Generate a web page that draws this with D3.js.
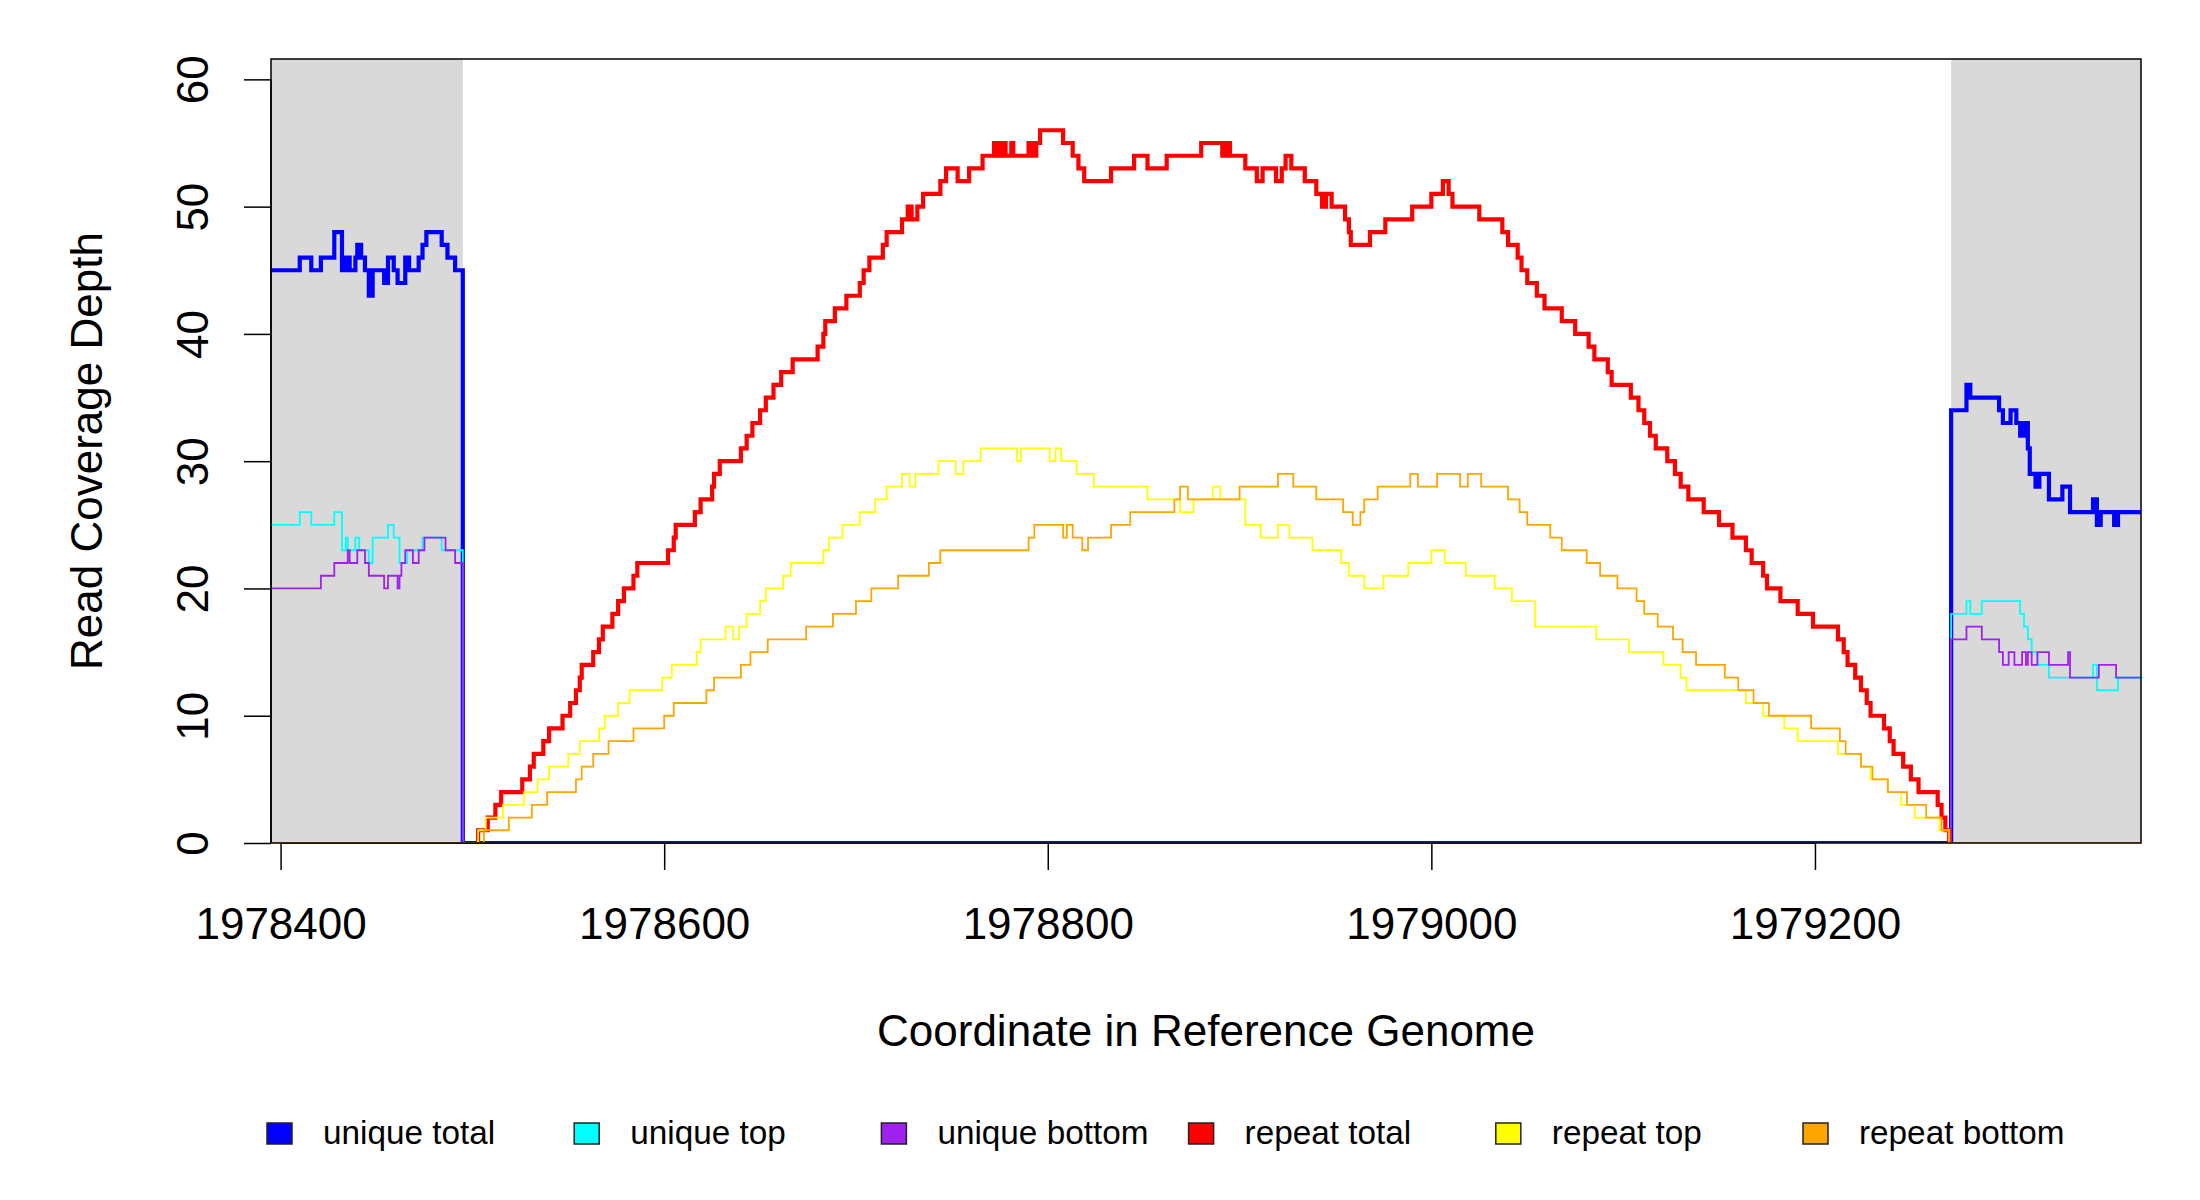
<!DOCTYPE html>
<html>
<head>
<meta charset="utf-8">
<script src="https://cdn.jsdelivr.net/npm/d3@7"></script>
<style>
  body { margin: 0; background: #ffffff; }
  #chart-area { width: 2200px; height: 1200px; }
  text { font-family: "Liberation Sans", Arial, Helvetica, sans-serif; fill: #000; }
</style>
</head>
<body>
<div id="chart-area"></div>
<script>
// Read coverage around a repeat.
// Each series is a list of [coordinate, depth] change points (drawn as steps).

const xTicks = [1978400, 1978600, 1978800, 1979000, 1979200];
const yTicks = [0, 10, 20, 30, 40, 50, 60];

// Unique flanks (shaded grey) either side of the repeat
const leftFlank = [1978395, 1978495];
const rightFlank = [1979271, 1979370];

const uniqueTotal = [
  [1978395, 45], [1978410, 46], [1978416, 45], [1978421, 46], [1978428, 48], [1978432, 45], [1978433, 46],
  [1978434, 45], [1978435, 46], [1978436, 45], [1978439, 46], [1978440, 47], [1978442, 46], [1978444, 45],
  [1978446, 43], [1978448, 45], [1978454, 44], [1978456, 46], [1978459, 45], [1978461, 44], [1978465, 46],
  [1978467, 45], [1978472, 46], [1978474, 47], [1978476, 48], [1978484, 47], [1978487, 46], [1978491, 45],
  [1978495, 0],
  [1979271, 34], [1979279, 36], [1979281, 35], [1979296, 34], [1979298, 33], [1979302, 34], [1979305, 33],
  [1979307, 32], [1979309, 33], [1979311, 31], [1979312, 29], [1979315, 28], [1979317, 29], [1979322, 27],
  [1979329, 28], [1979333, 26], [1979345, 27], [1979347, 25], [1979349, 26], [1979356, 25], [1979358, 26],
  [1979370, 26],
];

const uniqueTop = [
  [1978395, 25], [1978410, 26], [1978416, 25], [1978428, 26], [1978432, 23], [1978434, 24], [1978435, 23],
  [1978439, 24], [1978441, 23], [1978446, 22], [1978448, 24], [1978456, 25], [1978459, 24], [1978462, 22],
  [1978466, 23], [1978474, 24], [1978484, 23], [1978495, 0],
  [1979271, 18], [1979279, 19], [1979281, 18], [1979287, 19], [1979307, 18], [1979309, 17], [1979311, 16],
  [1979313, 15], [1979316, 14], [1979322, 13], [1979345, 14], [1979347, 12], [1979358, 13], [1979370, 13],
];

const uniqueBottom = [
  [1978395, 20], [1978421, 21], [1978428, 22], [1978435, 23], [1978436, 22], [1978440, 23], [1978444, 22],
  [1978446, 21], [1978454, 20], [1978456, 21], [1978461, 20], [1978462, 21], [1978463, 22], [1978465, 23],
  [1978469, 22], [1978472, 23], [1978475, 24], [1978486, 23], [1978491, 22], [1978495, 0],
  [1979271, 16], [1979279, 17], [1979287, 16], [1979296, 15], [1979298, 14], [1979301, 15], [1979304, 14],
  [1979308, 15], [1979310, 14], [1979311, 15], [1979313, 14], [1979316, 15], [1979322, 14], [1979332, 15],
  [1979333, 13], [1979348, 14], [1979357, 13], [1979370, 13],
];

// repeat total only covers the repeat itself
const repeatTotal = [
  [1978502, 0], [1978503, 1], [1978508, 2], [1978512, 3], [1978515, 4], [1978526, 5], [1978530, 6],
  [1978532, 7], [1978537, 8], [1978540, 9], [1978547, 10], [1978551, 11], [1978554, 12], [1978556, 13],
  [1978557, 14], [1978563, 15], [1978566, 16], [1978568, 17], [1978573, 18], [1978576, 19], [1978579, 20],
  [1978584, 21], [1978586, 22], [1978602, 23], [1978605, 24], [1978606, 25], [1978616, 26], [1978619, 27],
  [1978625, 28], [1978626, 29], [1978629, 30], [1978640, 31], [1978643, 32], [1978646, 33], [1978650, 34],
  [1978653, 35], [1978657, 36], [1978661, 37], [1978667, 38], [1978680, 39], [1978683, 40], [1978684, 41],
  [1978689, 42], [1978695, 43], [1978702, 44], [1978704, 45], [1978707, 46], [1978714, 47], [1978716, 48],
  [1978724, 49], [1978727, 50], [1978729, 49], [1978732, 50], [1978735, 51], [1978744, 52], [1978747, 53],
  [1978753, 52], [1978759, 53], [1978766, 54], [1978772, 55], [1978774, 54], [1978776, 55], [1978778, 54],
  [1978781, 55], [1978782, 54], [1978790, 55], [1978792, 54], [1978794, 55], [1978796, 56], [1978808, 55],
  [1978813, 54], [1978816, 53], [1978819, 52], [1978833, 53], [1978845, 54], [1978852, 53], [1978862, 54],
  [1978880, 55], [1978891, 54], [1978893, 55], [1978895, 54], [1978903, 53], [1978909, 52], [1978912, 53],
  [1978919, 52], [1978922, 53], [1978924, 54], [1978927, 53], [1978934, 52], [1978940, 51], [1978943, 50],
  [1978945, 51], [1978948, 50], [1978955, 49], [1978957, 48], [1978958, 47], [1978968, 48], [1978976, 49],
  [1978990, 50], [1979000, 51], [1979006, 52], [1979009, 51], [1979011, 50], [1979025, 49], [1979037, 48],
  [1979040, 47], [1979045, 46], [1979047, 45], [1979050, 44], [1979055, 43], [1979059, 42], [1979068, 41],
  [1979075, 40], [1979082, 39], [1979085, 38], [1979092, 37], [1979094, 36], [1979104, 35], [1979108, 34],
  [1979111, 33], [1979114, 32], [1979117, 31], [1979123, 30], [1979127, 29], [1979130, 28], [1979134, 27],
  [1979142, 26], [1979150, 25], [1979157, 24], [1979164, 23], [1979167, 22], [1979173, 21], [1979175, 20],
  [1979182, 19], [1979191, 18], [1979199, 17], [1979212, 16], [1979215, 15], [1979217, 14], [1979221, 13],
  [1979224, 12], [1979227, 11], [1979229, 10], [1979236, 9], [1979239, 8], [1979241, 7], [1979246, 6],
  [1979250, 5], [1979254, 4], [1979264, 3], [1979266, 2], [1979268, 1], [1979270, 0], [1979271, 0],
];

const repeatTop = [
  [1978395, 0], [1978503, 1], [1978507, 2], [1978516, 3], [1978527, 4], [1978534, 5], [1978540, 6],
  [1978550, 7], [1978556, 8], [1978566, 9], [1978569, 10], [1978576, 11], [1978582, 12], [1978599, 13],
  [1978604, 14], [1978617, 15], [1978619, 16], [1978632, 17], [1978636, 16], [1978639, 17], [1978643, 18],
  [1978650, 19], [1978653, 20], [1978662, 21], [1978666, 22], [1978683, 23], [1978686, 24], [1978693, 25],
  [1978702, 26], [1978710, 27], [1978716, 28], [1978724, 29], [1978728, 28], [1978731, 29], [1978743, 30],
  [1978752, 29], [1978756, 30], [1978765, 31], [1978784, 30], [1978786, 31], [1978801, 30], [1978804, 31],
  [1978807, 30], [1978815, 29], [1978824, 28], [1978852, 27], [1978869, 26], [1978876, 27], [1978886, 28],
  [1978890, 27], [1978903, 25], [1978911, 24], [1978920, 25], [1978926, 24], [1978938, 23], [1978953, 22],
  [1978957, 21], [1978965, 20], [1978975, 21], [1978988, 22], [1979000, 23], [1979007, 22], [1979018, 21],
  [1979033, 20], [1979042, 19], [1979054, 17], [1979086, 16], [1979103, 15], [1979121, 14], [1979130, 13],
  [1979133, 12], [1979164, 11], [1979173, 10], [1979184, 9], [1979191, 8], [1979212, 7], [1979224, 6],
  [1979229, 5], [1979238, 4], [1979245, 3], [1979252, 2], [1979265, 1], [1979270, 0], [1979370, 0],
];

const repeatBottom = [
  [1978395, 0], [1978506, 1], [1978519, 2], [1978531, 3], [1978539, 4], [1978554, 5], [1978557, 6],
  [1978563, 7], [1978571, 8], [1978584, 9], [1978600, 10], [1978605, 11], [1978622, 12], [1978626, 13],
  [1978640, 14], [1978645, 15], [1978654, 16], [1978674, 17], [1978688, 18], [1978700, 19], [1978708, 20],
  [1978722, 21], [1978738, 22], [1978744, 23], [1978790, 24], [1978793, 25], [1978808, 24], [1978810, 25],
  [1978813, 24], [1978818, 23], [1978821, 24], [1978833, 25], [1978843, 26], [1978866, 27], [1978869, 28],
  [1978873, 27], [1978900, 28], [1978920, 29], [1978928, 28], [1978940, 27], [1978954, 26], [1978959, 25],
  [1978963, 26], [1978965, 27], [1978972, 28], [1978989, 29], [1978993, 28], [1979003, 29], [1979015, 28],
  [1979019, 29], [1979026, 28], [1979040, 27], [1979046, 26], [1979050, 25], [1979062, 24], [1979068, 23],
  [1979081, 22], [1979088, 21], [1979097, 20], [1979107, 19], [1979111, 18], [1979118, 17], [1979126, 16],
  [1979131, 15], [1979138, 14], [1979153, 13], [1979160, 12], [1979168, 11], [1979176, 10], [1979198, 9],
  [1979213, 8], [1979216, 7], [1979224, 6], [1979230, 5], [1979238, 4], [1979248, 3], [1979258, 2],
  [1979266, 1], [1979270, 0], [1979370, 0],
];

const seriesNames = ["unique total", "unique top", "unique bottom", "repeat total", "repeat top", "repeat bottom"];
const seriesValues = [uniqueTotal, uniqueTop, uniqueBottom, repeatTotal, repeatTop, repeatBottom];

// styles (kept apart from the data)
const seriesColors = ["#0000ff", "#00ffff", "#a020f0", "#ff0000", "#ffff00", "#ffa500"];
const seriesWidths = [4.2, 1.8, 1.8, 4.2, 1.8, 1.8];

class CoverageChart {
  constructor(parentElement) {
    this.parentElement = parentElement;
    this.initVis();
  }

  initVis() {
    let vis = this;

    vis.margin = { top: 59, right: 59, bottom: 357, left: 271 };
    vis.width = 2200 - vis.margin.left - vis.margin.right;
    vis.height = 1200 - vis.margin.top - vis.margin.bottom;

    vis.svg = d3
      .select("#" + vis.parentElement)
      .append("svg")
      .attr("width", 2200)
      .attr("height", 1200)
      .append("g")
      .attr("transform", `translate(${vis.margin.left},${vis.margin.top})`);

    vis.x = d3.scaleLinear().domain([leftFlank[0], rightFlank[1]]).range([0, vis.width]);
    vis.y = d3.scaleLinear().domain([0, 61.6]).range([vis.height, 0]);

    vis.svg
      .append("clipPath")
      .attr("id", "plot-clip")
      .append("rect")
      .attr("width", vis.width)
      .attr("height", vis.height);

    // grey background over the unique flanks
    vis.svg
      .selectAll("rect.flank")
      .data([leftFlank, rightFlank])
      .enter()
      .append("rect")
      .attr("class", "flank")
      .attr("x", (d) => vis.x(d[0]))
      .attr("y", 0)
      .attr("width", (d) => vis.x(d[1]) - vis.x(d[0]))
      .attr("height", vis.height)
      .attr("fill", "#d9d9d9");

    vis.drawAxes();
    vis.drawLines();
    vis.drawLegend();

    // frame round the plot region
    vis.svg
      .append("rect")
      .attr("width", vis.width)
      .attr("height", vis.height)
      .attr("fill", "none")
      .attr("stroke", "#000")
      .attr("stroke-width", 1.5);
  }

  drawAxes() {
    let vis = this;

    vis.xAxis = d3.axisBottom(vis.x).tickValues(xTicks).tickFormat(d3.format("d")).tickSize(27).tickSizeOuter(0);
    vis.yAxis = d3.axisLeft(vis.y).tickValues(yTicks).tickSize(27).tickSizeOuter(0);

    vis.xAxisGroup = vis.svg.append("g").attr("class", "x-axis axis").attr("transform", `translate(0,${vis.height})`).call(vis.xAxis);
    vis.yAxisGroup = vis.svg.append("g").attr("class", "y-axis axis").call(vis.yAxis);

    // R-style axis line only runs between first and last tick
    vis.xAxisGroup.select(".domain").attr("d", `M${vis.x(xTicks[0])},0H${vis.x(xTicks[xTicks.length - 1])}`);
    vis.yAxisGroup.select(".domain").attr("d", `M0,${vis.y(yTicks[0])}V${vis.y(yTicks[yTicks.length - 1])}`);

    vis.svg.selectAll(".axis .domain, .axis line").attr("stroke", "#000").attr("stroke-width", 1.5);

    vis.xAxisGroup
      .selectAll("text")
      .attr("y", 96)
      .attr("dy", null)
      .style("font-size", "44px");

    // y labels are parallel to the axis
    vis.yAxisGroup
      .selectAll(".tick text")
      .attr("x", null)
      .attr("dy", null)
      .attr("text-anchor", "middle")
      .attr("transform", "translate(-63,0) rotate(-90)")
      .style("font-size", "44px");

    // Axis titles
    vis.svg
      .append("text")
      .attr("x", vis.width / 2)
      .attr("y", vis.height + 203)
      .attr("text-anchor", "middle")
      .style("font-size", "44px")
      .text("Coordinate in Reference Genome");

    vis.svg
      .append("text")
      .attr("transform", `translate(-169,${vis.height / 2}) rotate(-90)`)
      .attr("text-anchor", "middle")
      .style("font-size", "44px")
      .text("Read Coverage Depth");
  }

  drawLines() {
    let vis = this;

    const line = d3
      .line()
      .x((d) => vis.x(d[0]))
      .y((d) => vis.y(d[1]))
      .curve(d3.curveStepAfter);

    vis.svg
      .append("g")
      .attr("clip-path", "url(#plot-clip)")
      .selectAll("path.coverage")
      .data(seriesValues)
      .enter()
      .append("path")
      .attr("class", "coverage")
      .attr("fill", "none")
      .attr("stroke", (d, i) => seriesColors[i])
      .attr("stroke-width", (d, i) => seriesWidths[i])
      .attr("stroke-linejoin", "miter")
      .attr("d", line);
  }

  drawLegend() {
    let vis = this;
    const itemSpacing = 307.2;

    vis.legend = d3
      .select("#" + vis.parentElement + " svg")
      .append("g")
      .attr("class", "legend")
      .attr("transform", "translate(267,1123)");

    const items = vis.legend
      .selectAll("g.item")
      .data(seriesNames)
      .enter()
      .append("g")
      .attr("class", "item")
      .attr("transform", (d, i) => `translate(${i * itemSpacing},0)`);

    items
      .append("rect")
      .attr("width", 25)
      .attr("height", 21)
      .attr("fill", (d, i) => seriesColors[i])
      .attr("stroke", "#222")
      .attr("stroke-width", 1.5);

    items
      .append("text")
      .attr("x", 56)
      .attr("y", 21)
      .style("font-size", "33.3px")
      .text((d) => d);
  }
}

new CoverageChart("chart-area");
</script>
</body>
</html>
